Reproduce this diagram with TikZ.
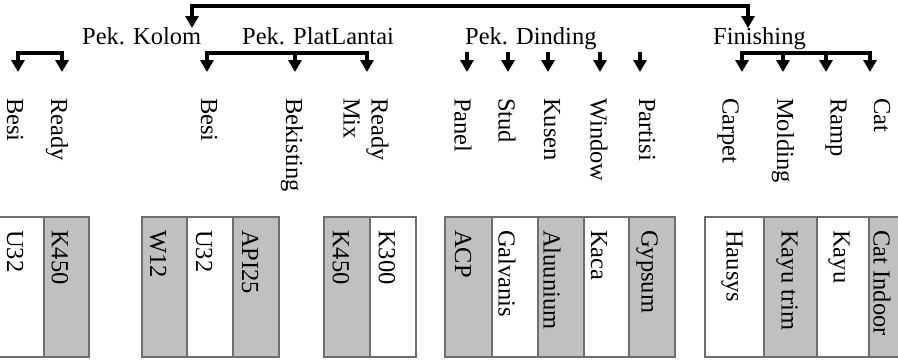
\documentclass[tikz,border=0pt]{standalone}
\usepackage{fontspec}
\setmainfont{Liberation Serif}
\usetikzlibrary{arrows.meta}
\definecolor{cellgray}{RGB}{192,192,192}
\definecolor{cellline}{RGB}{110,110,110}
\tikzset{
  arr/.style={line width=3.2pt,-{Triangle[width=13pt,length=12pt]}},
  head/.style={anchor=base west,inner sep=0pt},
  vlab/.style={rotate=-90,anchor=west,inner sep=0pt,align=left},
  gcell/.style={fill=cellgray,draw=cellline,line width=1.4pt},
  wcell/.style={fill=white,draw=cellline,line width=1.4pt}
}
\begin{document}
\begin{tikzpicture}[x=1pt,y=-1pt,font=\fontsize{24.5}{28}\selectfont]
\useasboundingbox (0,0) rectangle (898,362);
\clip (0,0) rectangle (898,362);
% headings
\node[head] (kolom) at (82,44) {Pek. Kolom};
\node[head] (plat) at (242,44) {Pek. PlatLantai};
\node[head] (dinding) at (465,44) {Pek. Dinding};
\node[head] (fin) at (713,44) {Finishing};
% top connector
\coordinate (topmid) at (470,6);
\coordinate (tkolom) at (192,28);
\coordinate (tfin) at (748,28);
\draw[arr] (topmid) -| (tkolom);
\draw[arr] (topmid) -| (tfin);
% item labels
\node[vlab] (k1) at (15,98) {Besi};
\node[vlab] (k2) at (57,98) {Ready};
\node[vlab] (p1) at (209,98) {Besi};
\node[vlab] (p2) at (292,98) {Bekisting};
\node[vlab] (p3) at (366,98) {Ready\\Mix};
\node[vlab] (d1) at (463,98) {Panel};
\node[vlab] (d2) at (507,98) {Stud};
\node[vlab] (d3) at (552,98) {Kusen};
\node[vlab] (d4) at (599,98) {Window};
\node[vlab] (d5) at (647,98) {Partisi};
\node[vlab] (f1) at (728,98) {Carpet};
\node[vlab] (f2) at (783,98) {Molding};
\node[vlab] (f3) at (836,98) {Ramp};
\node[vlab] (f4) at (882,98) {Cat};
% second level arrows
\coordinate (kb) at (40,53);
\coordinate (ka1) at (18,72);
\coordinate (ka2) at (62,72);
\draw[arr] (kb) -| (ka1);
\draw[arr] (kb) -| (ka2);
\coordinate (pb) at (295,53);
\coordinate (pa1) at (207,72);
\coordinate (pa2) at (295,72);
\coordinate (pa3) at (367,72);
\draw[arr] (pb) -| (pa1);
\draw[arr] (pb) -- (pa2);
\draw[arr] (pb) -| (pa3);
\foreach \x [count=\i] in {467,508,548,600,640}{
  \coordinate (ds\i) at (\x,52);
  \coordinate (da\i) at (\x,72);
  \draw[arr] (ds\i) -- (da\i);
}
\coordinate (fb) at (806,53);
\coordinate (fa1) at (742,72);
\coordinate (fa2) at (783,72);
\coordinate (fa3) at (826,72);
\coordinate (fa4) at (870,72);
\draw[arr] (fb) -| (fa1);
\draw[arr] (fb) -| (fa4);
\draw[arr] (fa2|-fb) -- (fa2);
\draw[arr] (fa3|-fb) -- (fa3);
% material cells
\draw[wcell] (-3,217) rectangle (44,357);
\draw[gcell] (44,217) rectangle (89,357);
\draw[gcell] (142,217) rectangle (187,357);
\draw[wcell] (187,217) rectangle (233,357);
\draw[gcell] (233,217) rectangle (279,357);
\draw[gcell] (324,217) rectangle (370,357);
\draw[wcell] (370,217) rectangle (416,357);
\draw[gcell] (445,217) rectangle (492,357);
\draw[wcell] (492,217) rectangle (538,357);
\draw[gcell] (538,217) rectangle (584,357);
\draw[wcell] (584,217) rectangle (629,357);
\draw[gcell] (629,217) rectangle (675,357);
\draw[wcell] (705,217) rectangle (764,357);
\draw[gcell] (764,217) rectangle (817,357);
\draw[wcell] (817,217) rectangle (869,357);
\draw[gcell] (869,217) rectangle (905,357);
% cell texts
\node[vlab] (m1) at (15,230) {U32};
\node[vlab] (m2) at (60,230) {K450};
\node[vlab] (m3) at (158,230) {W12};
\node[vlab] (m4) at (204,230) {U32};
\node[vlab] (m5) at (250,230) {API25};
\node[vlab] (m6) at (341,230) {K450};
\node[vlab] (m7) at (387,230) {K300};
\node[vlab] (m8) at (463,230) {ACP};
\node[vlab] (m9) at (507,230) {Galvanis};
\node[vlab] (m10) at (552,230) {Aluunium};
\node[vlab] (m11) at (599,230) {Kaca};
\node[vlab] (m12) at (647,230) {Gypsum};
\node[vlab] (m13) at (732,230) {Hausys};
\node[vlab] (m14) at (787,230) {Kayu trim};
\node[vlab] (m15) at (839,230) {Kayu};
\node[vlab] (m16) at (882,230) {Cat Indoor};
\end{tikzpicture}
\end{document}
